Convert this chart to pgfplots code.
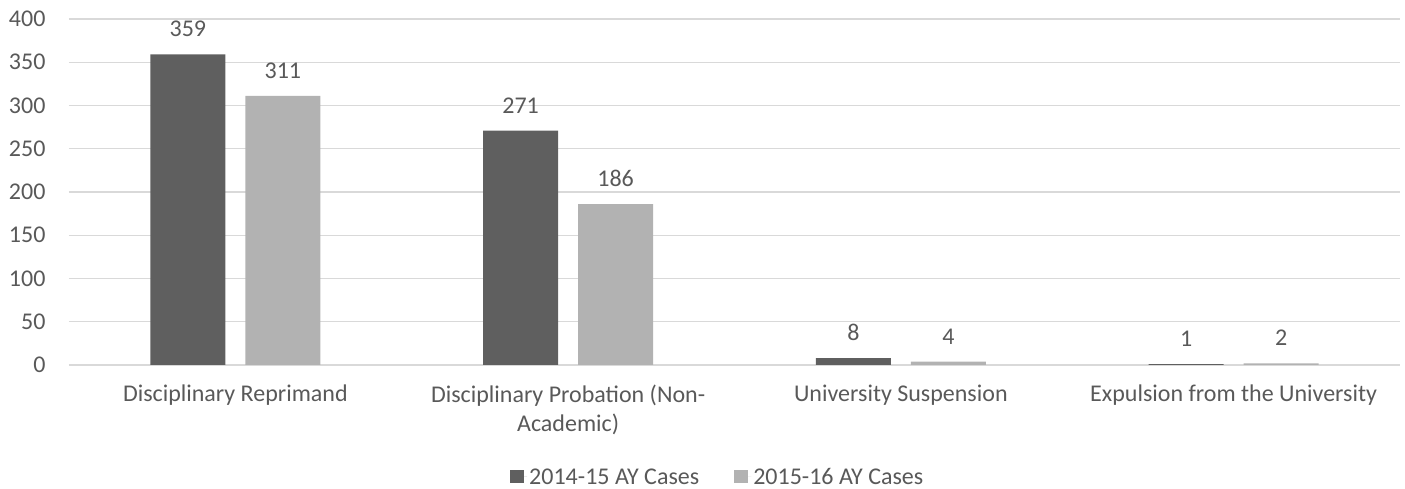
\documentclass[border=0pt]{standalone}
\usepackage{pgfplots}
\pgfplotsset{compat=1.18}
\usepackage{fontspec}
\setmainfont{Carlito}
\definecolor{darkbar}{HTML}{5F5F5F}
\definecolor{lightbar}{HTML}{B2B2B2}
\definecolor{gridc}{HTML}{D9D9D9}
\definecolor{txt}{HTML}{595959}
\begin{document}
\begin{tikzpicture}
\path[use as bounding box] (0,0) rectangle (1405pt,489pt);
\begin{axis}[
  at={(69pt,124pt)}, anchor=south west,
  scale only axis, width=1331pt, height=346pt,
  ymin=0, ymax=400, ytick={0,50,...,400},
  xmin=-0.5, xmax=3.5, xtick={0,1,2,3},
  xticklabels={Disciplinary Reprimand,{Disciplinary Probation (Non-\\Academic)},University Suspension,Expulsion from the University},
  axis line style={draw=none},
  major tick length=0pt,
  ymajorgrids, grid style={gridc, line width=1.3pt},
  ybar, 
  tick label style={font=\fontsize{24}{29}\selectfont, text=txt},
  /pgf/number format/assume math mode=true,
  yticklabel style={xshift=-20pt},
  xticklabel style={align=center, yshift=-16pt},
  nodes near coords,
  every node near coord/.append style={font=\fontsize{24}{29}\selectfont, text=txt, yshift=14pt},
  legend style={at={(0.3291,-0.3237)}, anchor=west, draw=none, legend columns=2, font=\fontsize{24}{29}\selectfont, text=txt, /tikz/every even column/.append style={column sep=33pt}},
  legend image code/.code={\fill[#1] (0pt,-6.5pt) rectangle (14pt,6.5pt); \path (0pt,0pt) -- (17pt,0pt);},
  clip=false,
]
\addplot[fill=darkbar, draw=none, bar width=75pt, bar shift=-47.5pt] coordinates {(0,359) (1,271) (2,8) (3,1)};
\addplot[fill=lightbar, draw=none, bar width=75pt, bar shift=47.5pt] coordinates {(0,311) (1,186) (2,4) (3,2)};
\legend{2014-15 AY Cases, 2015-16 AY Cases}
\end{axis}
\end{tikzpicture}
\end{document}
